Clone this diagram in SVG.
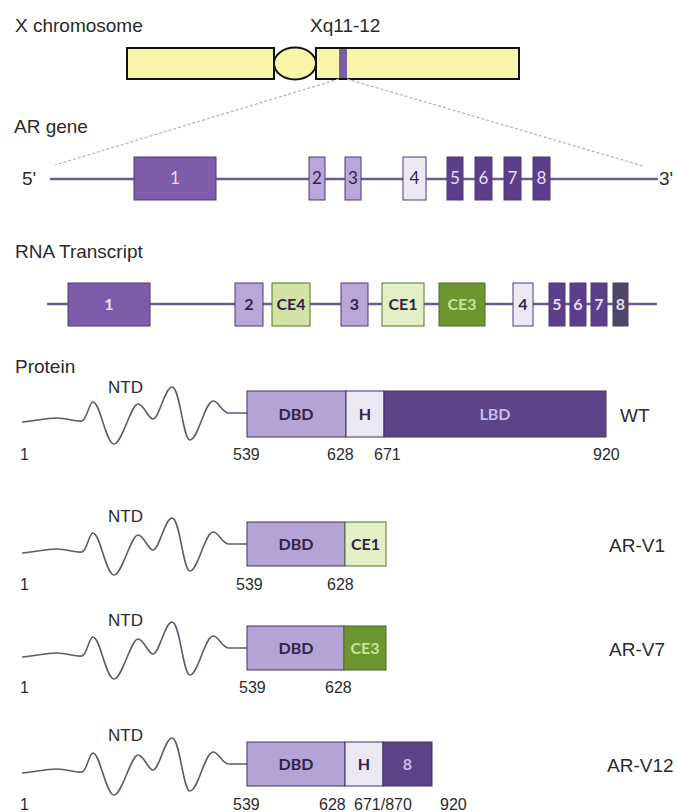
<svg xmlns="http://www.w3.org/2000/svg" xmlns:xlink="http://www.w3.org/1999/xlink" width="678" height="812" viewBox="0 0 678 812">
<style>
.lbl{font-family:"Liberation Sans",Arial,sans-serif;font-size:19px;fill:#2b2b2b}
.num{font-family:"Liberation Sans",Arial,sans-serif;font-size:16px;fill:#2b2b2b}
.ntd{font-family:"Liberation Sans",Arial,sans-serif;font-size:17px;fill:#2b2b2b}
.chr{fill:#f8f5a8;stroke:#111;stroke-width:2}
.gl{stroke:#6b5b8f;stroke-width:2.5;fill:none}
.ex{stroke:#4c3c70;stroke-width:1}
.e1{fill:#7d5ca9}
.e23{fill:#b8a7d8}
.e4{fill:#ece8f5}
.e58{fill:#5b3f8b}
.e8t{fill:#4e4763}
.ce4{fill:#d5e2a6;stroke:#55752a;stroke-width:1}
.ce1{fill:#e4efc6;stroke:#55752a;stroke-width:1}
.ce3{fill:#6c9630;stroke:#4d6e20;stroke-width:1}
.dbd{fill:#b4a3d5}
.hh{fill:#ebe7f3}
.lbd{fill:#5d4387}
.pb{stroke:#3f3560;stroke-width:1}
.bt{font-family:Lato,"Liberation Sans",sans-serif;font-size:17px;text-anchor:middle}
.bb{font-family:Lato,"Liberation Sans",sans-serif;font-size:16px;font-weight:bold;text-anchor:middle}
.lt{fill:#e6defa}
.dk{fill:#2e2448}
.wave{fill:none;stroke:#5a5c6e;stroke-width:1.6}
.dot{stroke:#b8acd0;stroke-width:1.2;stroke-dasharray:3,2}
</style>
<defs>
<path id="wave" class="wave" d="M22,31 C35,30 45,27 57,27 C67,27 75,31 82,30 C87,29 89,11 93,11 C100,11 106,53 114,53 C122,53 131,13 138,13 C144,13 148,28 153,28 C159,28 165,-4 172,-4 C180,-4 183,49 190,49 C198,49 205,10 213,10 C219,10 222,22 229,22 L247,22"/>
</defs>

<g id="labels">
<text class="lbl" x="15" y="32">X chromosome</text>
<text class="lbl" x="310" y="32">Xq11-12</text>
<text class="lbl" x="14" y="133">AR gene</text>
<text class="lbl" x="15" y="258">RNA Transcript</text>
<text class="lbl" x="15" y="373">Protein</text>
</g>

<g id="chromosome">
<rect class="chr" x="127" y="48" width="147" height="31"/>
<ellipse class="chr" cx="295" cy="63.5" rx="21" ry="16"/>
<rect class="chr" x="316" y="48" width="203" height="31"/>
<rect x="339" y="49" width="8" height="29" fill="#7b5ea8"/>
</g>

<g id="connectors">
<line class="dot" x1="339" y1="79" x2="55" y2="165"/>
<line class="dot" x1="347" y1="79" x2="643" y2="166"/>
</g>

<g id="ar-gene">
<text class="lbl" x="22" y="185">5'</text>
<text class="lbl" x="659" y="185">3'</text>
<line class="gl" x1="50" y1="179" x2="658" y2="179"/>
<rect class="ex e1" x="134" y="157" width="82" height="43"/>
<text class="bt lt" x="175" y="184">1</text>
<rect class="ex e23" x="309" y="157" width="16" height="43"/>
<text class="bt dk" x="317" y="184">2</text>
<rect class="ex e23" x="345" y="157" width="16" height="43"/>
<text class="bt dk" x="353" y="184">3</text>
<rect class="ex e4" x="403" y="157" width="23" height="43"/>
<text class="bt dk" x="414.5" y="184">4</text>
<rect class="ex e58" x="447" y="157" width="16" height="43"/>
<text class="bt lt" x="455" y="184">5</text>
<rect class="ex e58" x="475" y="157" width="17" height="43"/>
<text class="bt lt" x="483.5" y="184">6</text>
<rect class="ex e58" x="504" y="157" width="17" height="43"/>
<text class="bt lt" x="512.5" y="184">7</text>
<rect class="ex e58" x="533" y="157" width="17" height="43"/>
<text class="bt lt" x="541.5" y="184">8</text>
</g>

<g id="rna-transcript">
<line class="gl" x1="47" y1="304" x2="657" y2="304"/>
<rect class="ex e1" x="68" y="283" width="82" height="43"/>
<text class="bb lt" x="109" y="310">1</text>
<rect class="ex e23" x="235" y="283" width="28" height="43"/>
<text class="bb dk" x="249" y="310">2</text>
<rect class="ce4" x="272" y="283" width="38" height="43"/>
<text class="bb dk" x="291" y="310">CE4</text>
<rect class="ex e23" x="341" y="283" width="27" height="43"/>
<text class="bb dk" x="354.5" y="310">3</text>
<rect class="ce1" x="382" y="283" width="42" height="43"/>
<text class="bb dk" x="403" y="310">CE1</text>
<rect class="ce3" x="439" y="283" width="46" height="43"/>
<text class="bb" x="462" y="310" fill="#c9e39a">CE3</text>
<rect class="ex e4" x="513" y="283" width="20" height="43"/>
<text class="bb dk" x="523" y="310">4</text>
<rect class="ex e58" x="549" y="283" width="16" height="43"/>
<text class="bb lt" x="557" y="310">5</text>
<rect class="ex e58" x="570" y="283" width="16" height="43"/>
<text class="bb lt" x="578" y="310">6</text>
<rect class="ex e58" x="591" y="283" width="16" height="43"/>
<text class="bb lt" x="599" y="310">7</text>
<rect class="ex e8t" x="613" y="283" width="15" height="43"/>
<text class="bb lt" x="620.5" y="310">8</text>
</g>

<g id="protein-wt">
<use xlink:href="#wave" transform="translate(0,391)"/>
<text class="ntd" x="108" y="393">NTD</text>
<rect class="pb dbd" x="247" y="391" width="99" height="46"/>
<rect class="pb hh" x="346" y="391" width="38" height="46"/>
<rect class="pb lbd" x="384" y="391" width="222" height="46"/>
<text class="bb dk" x="296" y="420">DBD</text>
<text class="bb dk" x="365" y="420">H</text>
<text class="bb" x="495" y="420" fill="#c9bde6">LBD</text>
<text class="lbl" x="620" y="422">WT</text>
<text class="num" x="20" y="460">1</text>
<text class="num" x="233" y="460">539</text>
<text class="num" x="327" y="460">628</text>
<text class="num" x="374" y="460">671</text>
<text class="num" x="593" y="460">920</text>
</g>

<g id="protein-ar-v1">
<use xlink:href="#wave" transform="translate(0,522)"/>
<text class="ntd" x="108" y="522">NTD</text>
<rect class="pb dbd" x="247" y="522" width="98" height="44"/>
<rect class="ce1" x="345" y="522" width="41" height="44"/>
<text class="bb dk" x="296" y="550">DBD</text>
<text class="bb dk" x="365.5" y="550">CE1</text>
<text class="lbl" x="609" y="552">AR-V1</text>
<text class="num" x="20" y="590">1</text>
<text class="num" x="236" y="590">539</text>
<text class="num" x="327" y="590">628</text>
</g>

<g id="protein-ar-v7">
<use xlink:href="#wave" transform="translate(0,626)"/>
<text class="ntd" x="108" y="626">NTD</text>
<rect class="pb dbd" x="247" y="626" width="97" height="44"/>
<rect class="ce3" x="344" y="626" width="42" height="44"/>
<text class="bb dk" x="296" y="654">DBD</text>
<text class="bb" x="365" y="654" fill="#c9e39a">CE3</text>
<text class="lbl" x="609" y="656">AR-V7</text>
<text class="num" x="20" y="693">1</text>
<text class="num" x="239" y="693">539</text>
<text class="num" x="325" y="693">628</text>
</g>

<g id="protein-ar-v12">
<use xlink:href="#wave" transform="translate(0,742)"/>
<text class="ntd" x="108" y="741">NTD</text>
<rect class="pb dbd" x="247" y="742" width="98" height="44"/>
<rect class="pb hh" x="345" y="742" width="38" height="44"/>
<rect class="pb lbd" x="383" y="742" width="49" height="44"/>
<text class="bb dk" x="296" y="770">DBD</text>
<text class="bb dk" x="364" y="770">H</text>
<text class="bb" x="407.5" y="770" fill="#c9bde6">8</text>
<text class="lbl" x="607" y="772">AR-V12</text>
<text class="num" x="20" y="810">1</text>
<text class="num" x="233" y="810">539</text>
<text class="num" x="319" y="810">628</text>
<text class="num" x="354" y="810">671/870</text>
<text class="num" x="440" y="810">920</text>
</g>
</svg>
